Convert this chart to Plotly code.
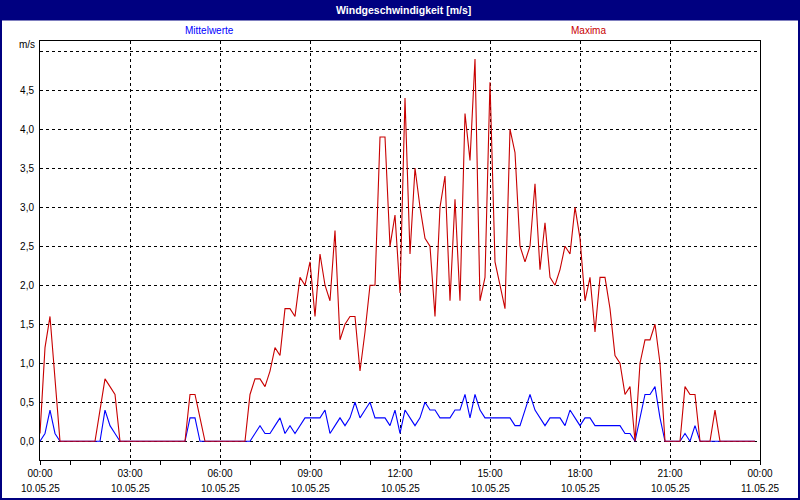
import pandas as pd
import plotly.graph_objects as go

# 10-minute samples, 10.05.25 00:00 .. 23:50
times = pd.date_range("2025-05-10 00:00", periods=144, freq="10min")

mittelwerte = [
    0.0, 0.1, 0.4, 0.1, 0.0, 0.0, 0.0, 0.0, 0.0, 0.0, 0.0, 0.0,   # 00:00-01:50
    0.0, 0.4, 0.2, 0.1, 0.0, 0.0, 0.0, 0.0, 0.0, 0.0, 0.0, 0.0,   # 02:00-03:50
    0.0, 0.0, 0.0, 0.0, 0.0, 0.0, 0.3, 0.3, 0.0, 0.0, 0.0, 0.0,   # 04:00-05:50
    0.0, 0.0, 0.0, 0.0, 0.0, 0.0, 0.0, 0.1, 0.2, 0.1, 0.1, 0.2,   # 06:00-07:50
    0.3, 0.1, 0.2, 0.1, 0.2, 0.3, 0.3, 0.3, 0.3, 0.4, 0.1, 0.2,   # 08:00-09:50
    0.3, 0.2, 0.3, 0.5, 0.3, 0.4, 0.5, 0.3, 0.3, 0.3, 0.2, 0.4,   # 10:00-11:50
    0.1, 0.4, 0.3, 0.2, 0.3, 0.5, 0.4, 0.4, 0.3, 0.3, 0.3, 0.4,   # 12:00-13:50
    0.4, 0.6, 0.3, 0.6, 0.4, 0.3, 0.3, 0.3, 0.3, 0.3, 0.3, 0.2,   # 14:00-15:50
    0.2, 0.4, 0.6, 0.4, 0.3, 0.2, 0.3, 0.3, 0.3, 0.2, 0.4, 0.3,   # 16:00-17:50
    0.2, 0.3, 0.3, 0.2, 0.2, 0.2, 0.2, 0.2, 0.2, 0.1, 0.1, 0.0,   # 18:00-19:50
    0.3, 0.6, 0.6, 0.7, 0.3, 0.0, 0.0, 0.0, 0.0, 0.1, 0.0, 0.2,   # 20:00-21:50
    0.0, 0.0, 0.0, 0.0, 0.0, 0.0, 0.0, 0.0, 0.0, 0.0, 0.0, 0.0,   # 22:00-23:50
]

maxima = [
    0.1, 1.2, 1.6, 0.8, 0.0, 0.0, 0.0, 0.0, 0.0, 0.0, 0.0, 0.0,   # 00:00-01:50
    0.4, 0.8, 0.7, 0.6, 0.0, 0.0, 0.0, 0.0, 0.0, 0.0, 0.0, 0.0,   # 02:00-03:50
    0.0, 0.0, 0.0, 0.0, 0.0, 0.0, 0.6, 0.6, 0.3, 0.0, 0.0, 0.0,   # 04:00-05:50
    0.0, 0.0, 0.0, 0.0, 0.0, 0.0, 0.6, 0.8, 0.8, 0.7, 0.9, 1.2,   # 06:00-07:50
    1.1, 1.7, 1.7, 1.6, 2.1, 2.0, 2.3, 1.6, 2.4, 2.0, 1.8, 2.7,   # 08:00-09:50
    1.3, 1.5, 1.6, 1.6, 0.9, 1.4, 2.0, 2.0, 3.9, 3.9, 2.5, 2.9,   # 10:00-11:50
    1.9, 4.4, 2.4, 3.5, 3.0, 2.6, 2.5, 1.6, 3.0, 3.4, 1.8, 3.1,   # 12:00-13:50
    1.8, 4.2, 3.6, 4.9, 1.8, 2.1, 4.6, 2.3, 2.0, 1.7, 4.0, 3.7,   # 14:00-15:50
    2.5, 2.3, 2.5, 3.3, 2.2, 2.8, 2.1, 2.0, 2.2, 2.5, 2.4, 3.0,   # 16:00-17:50
    2.6, 1.8, 2.1, 1.4, 2.1, 2.1, 1.7, 1.1, 1.0, 0.6, 0.7, 0.0,   # 18:00-19:50
    1.0, 1.3, 1.3, 1.5, 1.0, 0.0, 0.0, 0.0, 0.0, 0.7, 0.6, 0.6,   # 20:00-21:50
    0.0, 0.0, 0.0, 0.4, 0.0, 0.0, 0.0, 0.0, 0.0, 0.0, 0.0, 0.0,   # 22:00-23:50
]

tick_times = pd.date_range("2025-05-10 00:00", "2025-05-11 00:00", freq="3h")
time_labels = [f"{t:%H:%M}" for t in tick_times]
date_labels = [f"{t:%d.%m.%y}" for t in tick_times]
y_ticks = [0.0, 0.5, 1.0, 1.5, 2.0, 2.5, 3.0, 3.5, 4.0, 4.5, 5.0]
y_labels = [f"{v:.1f}".replace(".", ",") for v in y_ticks[:-1]] + [""]

NAVY = "#000080"
RED = "#C80000"
BLUE = "#0000FF"
FONT = "Liberation Sans"

fig = go.Figure()
fig.add_trace(go.Scatter(x=times, y=mittelwerte, mode="lines", name="Mittelwerte",
                         line=dict(color=BLUE, width=1.1)))
fig.add_trace(go.Scatter(x=times, y=maxima, mode="lines", name="Maxima",
                         line=dict(color=RED, width=1.1)))

L, R, T, B = 40, 40, 41, 40
W, H = 800, 500
pw, ph = W - L - R, H - T - B


def px(xp):
    return (xp - L) / pw


def py(yp):
    return (H - B - yp) / ph


annotations = [
    dict(text="<b>Windgeschwindigkeit [m/s]</b>", xref="paper", yref="paper",
         x=px(403), y=py(10), xanchor="center", yanchor="middle", showarrow=False,
         font=dict(family=FONT, size=10.5, color="white")),
    dict(text="Mittelwerte", xref="paper", yref="paper",
         x=px(209), y=py(31), xanchor="center", yanchor="middle", showarrow=False,
         font=dict(family=FONT, size=10, color=BLUE)),
    dict(text="Maxima", xref="paper", yref="paper",
         x=px(588), y=py(31), xanchor="center", yanchor="middle", showarrow=False,
         font=dict(family=FONT, size=10, color=RED)),
    dict(text="m/s", xref="paper", yref="paper",
         x=px(37), y=py(45), xanchor="right", yanchor="middle", showarrow=False,
         font=dict(family=FONT, size=10, color="#000000")),
]
for t, d in zip(tick_times, date_labels):
    annotations.append(dict(text=d, xref="x", yref="paper", x=t, y=py(488),
                            xanchor="center", yanchor="middle", showarrow=False,
                            font=dict(family=FONT, size=10, color="#000000")))

fig.update_layout(
    width=W, height=H,
    margin=dict(l=L, r=R, t=T, b=B, pad=0, autoexpand=False),
    paper_bgcolor="white", plot_bgcolor="white",
    showlegend=False,
    font=dict(family=FONT, size=10, color="#000000"),
    xaxis=dict(
        range=[tick_times[0], tick_times[-1]],
        tickvals=tick_times, ticktext=time_labels,
        showgrid=True, gridcolor="black", gridwidth=1, griddash="3px,3px",
        ticks="outside", ticklen=4, tickcolor="black",
        minor=dict(dtick=3600000, ticks="outside", ticklen=4, tickcolor="black", showgrid=False),
        showline=True, linecolor="black", linewidth=1, mirror=True,
        zeroline=False, tickangle=0, automargin=False,
        tickfont=dict(family=FONT, size=10, color="#000000"),
    ),
    yaxis=dict(
        range=[-0.24, 5.13],
        tickvals=y_ticks, ticktext=y_labels,
        showgrid=True, gridcolor="black", gridwidth=1, griddash="3px,3px",
        ticks="", ticklabelstandoff=3,
        showline=True, linecolor="black", linewidth=1, mirror=True,
        zeroline=False, automargin=False,
        tickfont=dict(family=FONT, size=10, color="#000000"),
    ),
    shapes=[
        dict(type="rect", xref="paper", yref="paper", layer="below",
             x0=px(0), x1=px(W), y0=py(0), y1=py(20.5),
             fillcolor=NAVY, line=dict(width=0)),
        dict(type="rect", xref="paper", yref="paper", layer="above",
             x0=px(0), x1=px(W), y0=py(0), y1=py(H),
             fillcolor="rgba(0,0,0,0)", line=dict(color=NAVY, width=4)),
    ],
    annotations=annotations,
)

fig.write_html(
    "out.html",
    config={"displayModeBar": False},
    post_script="document.body.style.margin='0';document.body.style.overflow='hidden';",
)
